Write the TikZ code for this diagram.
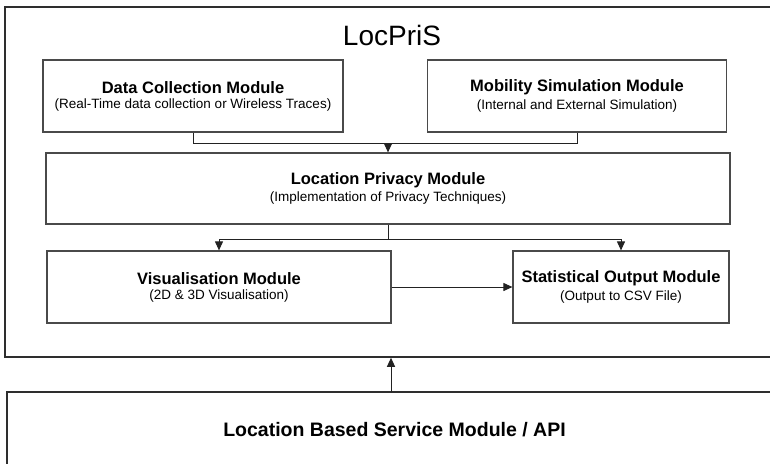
\documentclass[tikz,border=0pt]{standalone}
\usepackage{fontspec}
\setmainfont{Liberation Sans}
\usetikzlibrary{arrows.meta,positioning,calc}
\definecolor{boxline}{HTML}{4A4A4A}
\definecolor{frameline}{HTML}{2E2E2E}
\definecolor{wireline}{HTML}{222222}
\newcommand{\modtext}[2]{{\fontsize{16.5}{19}\selectfont\bfseries #1}\\[3pt]{\fontsize{13.5}{16}\selectfont #2}}
\tikzset{
  >={Triangle[length=9pt,width=8pt]},
  % modules
  frame/.style={draw=frameline,line width=1.5pt,inner sep=0pt},
  modbox/.style={draw=boxline,line width=1.2pt,fill=white,align=center,inner sep=0pt,
                 minimum height=72pt},
  title/.style={font=\fontsize{28}{32}\selectfont,inner sep=0pt},
  % connectors
  wire/.style={draw=wireline,line width=1pt},
  arr/.style={->,draw=wireline,line width=1pt},
}
\begin{document}
\begin{tikzpicture}[x=1pt,y=-1pt]
\useasboundingbox (0,0) rectangle (770,463);
\clip (0,0) rectangle (770,463);
  \node[frame,minimum width=775pt,minimum height=350pt] (locpris) at (392.5,182) {};
  \node[title] (name) at (392,35) {LocPriS};
  \node[modbox,minimum width=300pt] (dcm) at (193,96)
    {\modtext{Data Collection Module}{(Real-Time data collection or Wireless Traces)}};
  \node[modbox,minimum width=299pt] (msm) at (577,96)
    {\modtext{Mobility Simulation Module}{(Internal and External Simulation)}};
  \node[modbox,minimum width=684pt,minimum height=71pt] (lpm) at (388,188.5)
    {\modtext{Location Privacy Module}{(Implementation of Privacy Techniques)}};
  \node[modbox,minimum width=344pt] (vis) at (219,287)
    {\modtext{Visualisation Module}{(2D \& 3D Visualisation)}};
  \node[modbox,minimum width=216pt] (som) at (621,287)
    {\modtext{Statistical Output Module}{(Output to CSV File)}};
  \node[frame,minimum width=775pt,minimum height=76pt,
        font=\fontsize{19.5}{22}\selectfont\bfseries] (lbs) at (394.5,430)
    {Location Based Service Module / API};
  \coordinate (j1) at (388,143);
  \coordinate (j2) at (388,239);
  \coordinate (j3) at (391,392);
  \draw[wire] (dcm.south) |- (j1);
  \draw[wire] (msm.south) |- (j1);
  \draw[arr] (j1) -- (lpm.north);
  \draw[wire] (lpm.south) -- (j2);
  \draw[arr] (j2) -| (vis.north);
  \draw[arr] (j2) -| (som.north);
  \draw[arr] (vis.east) -- (som.west);
  \draw[arr] (j3) -- (j3 |- locpris.south);
\end{tikzpicture}
\end{document}
